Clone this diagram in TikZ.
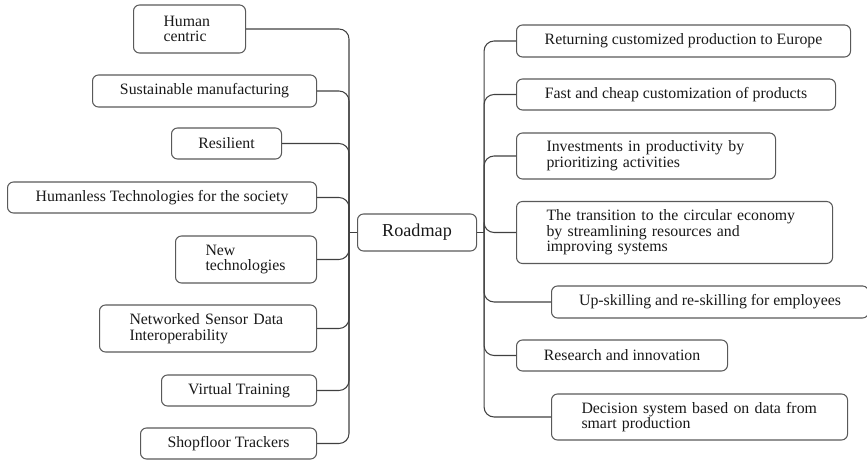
\documentclass[tikz,border=0pt]{standalone}
\usepackage{fontspec}
\setmainfont{Liberation Serif}
\usepackage{tikz}
\usetikzlibrary{positioning,calc}
\hyphenpenalty=10000
\exhyphenpenalty=10000

\begin{document}
\begin{tikzpicture}[x=0.03cm,y=-0.03cm,
  box/.style={draw=black!65, line width=0.9pt, rounded corners=0.18cm, anchor=west,
    inner sep=0pt, text=black!90, font=\fontsize{13.5}{13.3}\selectfont},
  boxc/.style 2 args={box, minimum width=#1, minimum height=#2, align=center},
  boxl/.style n args={3}{box, text width=#1, inner xsep=#2, minimum height=#3, align=left},
  link/.style={draw=black!75, line width=0.9pt, rounded corners=0.3cm}]
\useasboundingbox (0,0) rectangle (867,461);

\node[boxc={3.57cm}{1.11cm}, font=\fontsize{15.5}{16}\selectfont] (roadmap) at (357,232.5) {Roadmap};

% left side
\node[boxl={1.56cm}{0.9cm}{1.44cm}] (human) at (133,29) {Human\\centric};
\node[boxc={6.72cm}{0.96cm}] (sustain) at (92,91) {Sustainable manufacturing};
\node[boxc={3.30cm}{0.93cm}] (resil) at (171,143.5) {Resilient};
\node[boxc={9.27cm}{0.93cm}] (humanless) at (7,197.5) {Humanless Technologies for the society};
\node[boxl={2.43cm}{0.9cm}{1.41cm}] (newtech) at (175,259.5) {New\\technologies};
\node[boxl={4.71cm}{0.9cm}{1.41cm}] (network) at (99,328.5) {Networked Sensor Data\\Interoperability};
\node[boxc={4.65cm}{0.93cm}] (virtual) at (161,390.5) {Virtual Training};
\node[boxc={5.28cm}{0.93cm}] (shop) at (140,443.5) {Shopfloor Trackers};

% right side
\node[boxc={10.02cm}{0.96cm}] (ret) at (516,41) {Returning customized production to Europe};
\node[boxc={9.57cm}{0.93cm}] (fast) at (516,94.5) {Fast and cheap customization of products};
\node[boxl={5.97cm}{0.9cm}{1.38cm}] (invest) at (516,156) {Investments in productivity by\\prioritizing activities};
\node[boxl={7.68cm}{0.9cm}{1.86cm}] (trans) at (516,232.5) {The transition to the circular economy\\by streamlining resources and\\improving systems};
\node[boxc={9.51cm}{0.96cm}] (upskill) at (551,302) {Up-skilling and re-skilling for employees};
\node[boxc={6.33cm}{0.93cm}] (research) at (516,355.5) {Research and innovation};
\node[boxl={7.08cm}{0.9cm}{1.38cm}] (decision) at (551,417) {Decision system based on data from\\smart production};

\coordinate (lhub) at ([xshift=-0.24cm]roadmap.west);
\coordinate (rhub) at ([xshift=0.21cm]roadmap.east);

\foreach \n in {human,sustain,resil,humanless,newtech,network,virtual,shop}
  \draw[link] (\n.east) -| (lhub);
\draw[link] (lhub) -- (roadmap.west);

\foreach \n in {ret,fast,invest,trans,upskill,research,decision}
  \draw[link] (rhub) |- (\n.west);
\draw[link] (roadmap.east) -- (rhub);
\end{tikzpicture}
\end{document}
